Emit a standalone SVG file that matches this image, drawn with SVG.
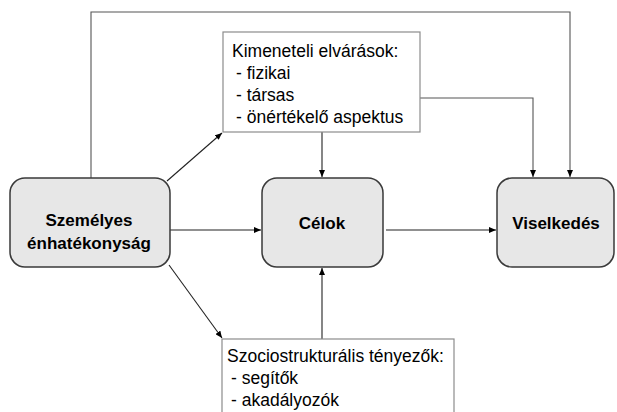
<svg xmlns="http://www.w3.org/2000/svg" width="617" height="412" viewBox="0 0 617 412">
<defs>
<marker id="ah" viewBox="0 0 10 10" refX="10" refY="5" markerWidth="7" markerHeight="6" markerUnits="userSpaceOnUse" orient="auto" preserveAspectRatio="none">
<path d="M0,0 L10,5 L0,10 z" fill="#000"/>
</marker>
<style>
.node rect{fill:#e7e7e7;stroke:#3a3a3a;stroke-width:1.5}
.box rect{fill:#fff;stroke:#8c8c8c;stroke-width:1.2}
.nt{font-family:"Liberation Sans",Arial,sans-serif;font-size:17px;font-weight:bold;fill:#000;text-anchor:middle}
.bt{font-family:"Liberation Sans",Arial,sans-serif;font-size:17.5px;fill:#000}
.c{fill:none;stroke:#222;stroke-width:1.1}
.cg{fill:none;stroke:#555;stroke-width:1.1}
</style>
</defs>
<rect width="617" height="412" fill="#fff"/>
<g id="connectors">
<path class="cg" d="M91,178 V12 H570 V177" marker-end="url(#ah)"/>
<path class="cg" d="M420,98 H533 V177" marker-end="url(#ah)"/>
<path class="c" d="M322,132 V177" marker-end="url(#ah)"/>
<path class="c" d="M167,181 L222,133" marker-end="url(#ah)"/>
<path class="c" d="M170,230 H261" marker-end="url(#ah)"/>
<path class="c" d="M386,230 H496" marker-end="url(#ah)"/>
<path class="c" d="M169,265 L222,338" marker-end="url(#ah)"/>
<path class="c" d="M322,339 V268" marker-end="url(#ah)"/>
</g>
<g id="szemelyes" class="node">
<rect x="10" y="178" width="160" height="89" rx="15"/>
<text class="nt" x="89" y="226">Személyes</text>
<text class="nt" x="89" y="249">énhatékonyság</text>
</g>
<g id="celok" class="node">
<rect x="262" y="178" width="121" height="89" rx="15"/>
<text class="nt" x="322" y="229">Célok</text>
</g>
<g id="viselkedes" class="node">
<rect x="497" y="178" width="117" height="89" rx="15"/>
<text class="nt" x="556" y="229">Viselkedés</text>
</g>
<g id="kimeneteli" class="box">
<rect x="223" y="32" width="197" height="100"/>
<text class="bt" x="232" y="57">Kimeneteli elvárások:</text>
<text class="bt" x="236" y="79">- fizikai</text>
<text class="bt" x="236" y="101">- társas</text>
<text class="bt" x="236" y="123">- önértékelő aspektus</text>
</g>
<g id="szociostrukturalis" class="box">
<rect x="222" y="339" width="232" height="90"/>
<text class="bt" x="227" y="362">Szociostrukturális tényezők:</text>
<text class="bt" x="231" y="384">- segítők</text>
<text class="bt" x="231" y="406">- akadályozók</text>
</g>
</svg>
